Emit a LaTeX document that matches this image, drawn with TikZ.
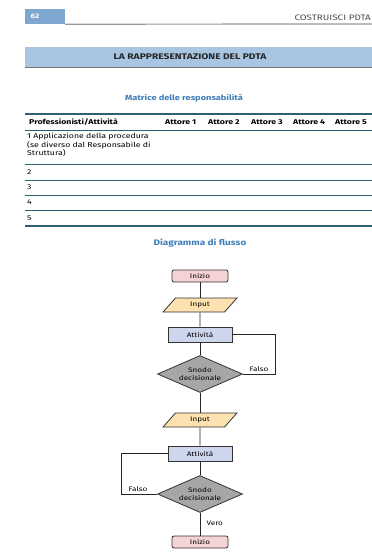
\documentclass[tikz,border=0pt]{standalone}
\usepackage{fontspec}
\setmainfont{Fira Sans}[FakeStretch=1.25]
\usetikzlibrary{shapes.geometric,positioning}

\definecolor{pageblue}{HTML}{7FA8D0}
\definecolor{barblue}{HTML}{A8C5E2}
\definecolor{headblue}{HTML}{3F7DB8}
\definecolor{rulecol}{HTML}{2E5E78}
\definecolor{startpink}{HTML}{F5D3D4}
\definecolor{inputyellow}{HTML}{FBE2B0}
\definecolor{actblue}{HTML}{CDD6EC}
\definecolor{decgray}{HTML}{A6A6A6}

\tikzset{
  every flow/.style={draw=black!80, line width=0.8pt, align=center, inner sep=1pt,
    font=\fontsize{6.5}{7.5}\selectfont},
  startbox/.style={every flow, rounded corners=2pt, fill=startpink, minimum width=56pt, minimum height=12pt},
  inputbox/.style={every flow, trapezium, trapezium left angle=55, trapezium right angle=125,
    trapezium stretches=true, fill=inputyellow, minimum width=74pt, minimum height=14pt},
  actbox/.style={every flow, rectangle, fill=actblue, minimum width=64pt, minimum height=15pt},
  decbox/.style={every flow, diamond, aspect=2.2, inner sep=0pt, fill=decgray, minimum width=85pt, minimum height=37pt},
  flowline/.style={line width=0.8pt, black!85},
  tableline/.style={rulecol, line width=0.7pt},
  cellhead/.style={font=\fontsize{7}{8}\selectfont\bfseries, inner sep=0pt},
  cell/.style={font=\fontsize{7}{8.5}\selectfont, inner sep=0pt, align=left}
}

\begin{document}
\begin{tikzpicture}[x=1pt, y=-1pt, >=stealth, font=\fontsize{6.5}{7.5}\selectfont]
	\useasboundingbox[fill=white] (0,0) rectangle (372,552);
	
	% page header
	\node [fill=pageblue, minimum width=40pt, minimum height=15pt, inner sep=0pt] (pagebox) at (45,16.5) {};
	\node [anchor=west, text=white, font=\fontsize{6.5}{7.5}\selectfont\bfseries] (pagenum) at (27,16.5) {62};
	\draw [black!40, line width=1.2pt] (pagebox.south east) -- (372,24);
	\node [anchor=east, inner sep=1pt, text=black!70, font=\fontsize{7.9}{9}\selectfont] (running) at (372,18) {COSTRUISCI PDTA};
	
	% title bar
	\fill [barblue] (25,47) rectangle (372,67);
	\draw [black!55, line width=0.8pt] (25,67) -- (372,67);
	\node [font=\fontsize{8.2}{9}\selectfont\bfseries, text=black!85] (title) at (190,56.5) {LA RAPPRESENTAZIONE DEL PDTA};
	
	\node [font=\fontsize{7.4}{8}\selectfont\bfseries, text=headblue] (matrix-title) at (184,98) {Matrice delle responsabilità};
	
	% table
	\draw [tableline, line width=1.1pt] (25,114) -- (372,114);
	\foreach \y in {130,164,180,195,210}
	\draw [tableline] (25,\y) -- (372,\y);
	\draw [tableline, line width=1.1pt] (25,226) -- (372,226);
	
	\node [cellhead, anchor=west] (head-0) at (29,122) {Professionisti/Attività};
	\foreach \n/\x in {1/165,2/208,3/251,4/293,5/335}
	\node [cellhead, anchor=west] (head-\n) at (\x,122) {Attore \n};
	
	\node [cell, anchor=north west] (row-1) at (27,133) {1 Applicazione della procedura\\(se diverso dal Responsabile di\\Struttura)};
	\foreach \n/\y in {2/172,3/187.5,4/202.5,5/218}
	\node [cell, anchor=west] (row-\n) at (27,\y) {\n};
	
	% flow chart
	\node [font=\fontsize{8}{9}\selectfont\bfseries, text=headblue] (flow-title) at (200,243) {Diagramma di flusso};
	
	\node [startbox] (start-1) at (200,276) {Inizio};
	\node [inputbox] (input-1) at (200,305) {Input};
	\node [actbox] (act-1) at (200,334.5) {Attività};
	\node [decbox] (dec-1) at (200,374) {Snodo\\decisionale};
	\node [inputbox] (input-2) at (200,420) {Input};
	\node [actbox] (act-2) at (200,453.5) {Attività};
	\node [decbox] (dec-2) at (200,494) {Snodo\\decisionale};
	\node [startbox] (start-2) at (200,542) {Inizio};
	
	\foreach \a/\b in {start-1/input-1, input-1/act-1, act-1/dec-1, dec-1/input-2,
	                   input-2/act-2, act-2/dec-2, dec-2/start-2}
	\draw [flowline] (\a) -- (\b);
	
	\draw [flowline] (act-1.east) -- ++(43,0) |- (dec-1.east);
	\draw [flowline] (act-2.west) -- ++(-46,0) |- (dec-2.west);
	
	\node [anchor=south west, inner sep=1.5pt] (false-1) at (248,373) {Falso};
	\node [anchor=south west, inner sep=1.5pt] (false-2) at (127,493) {Falso};
	\node [anchor=west] (true-2) at (203,523) {Vero};
\end{tikzpicture}
\end{document}
